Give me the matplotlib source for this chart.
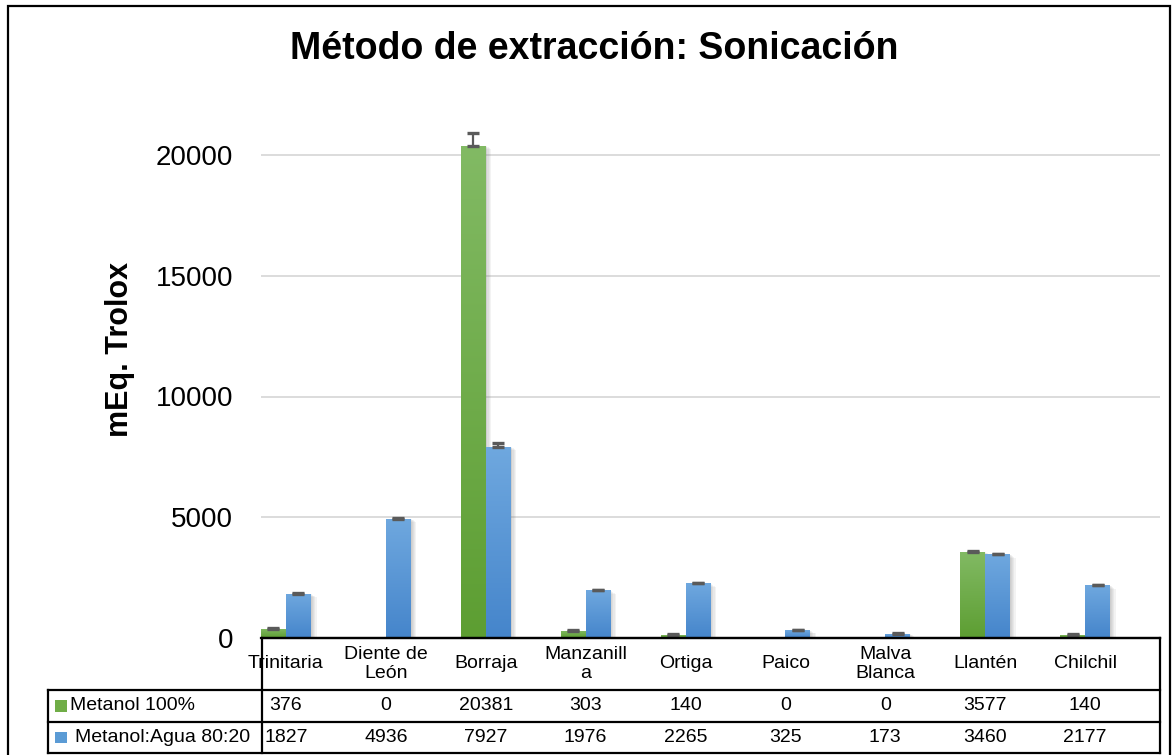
import numpy as np
import matplotlib
matplotlib.use("Agg")
import matplotlib.pyplot as plt
from matplotlib import patheffects as pe
from matplotlib.colors import LinearSegmentedColormap
from matplotlib.lines import Line2D
from matplotlib.patches import Rectangle
from matplotlib.transforms import blended_transform_factory

plt.rcParams['font.family'] = ['Liberation Sans', 'DejaVu Sans']

# ---- data ----
categories = ["Trinitaria", "Diente de\nLeón", "Borraja", "Manzanill\na", "Ortiga",
              "Paico", "Malva\nBlanca", "Llantén", "Chilchil"]
series_names = ["Metanol 100%", "Metanol:Agua 80:20"]
metanol_100 = [376, 0, 20381, 303, 140, 0, 0, 3577, 140]
metanol_agua = [1827, 4936, 7927, 1976, 2265, 325, 173, 3460, 2177]
err_100 = [25, 0, 540, 25, 25, 0, 0, 40, 25]
err_agua = [25, 30, 150, 30, 25, 25, 25, 30, 25]
yticks = [0, 5000, 10000, 15000, 20000]

W, H = 1172, 755
fig = plt.figure(figsize=(W / 100, H / 100), dpi=100)
fig.patch.set_facecolor("white")


def fx(px):
    return px / W


def fy(py):
    return 1 - py / H


ax_left, ax_right, ax_bottom = 261, 1160, 638
y_top = 21500
px_per_unit = 483 / 20000
ax_top = ax_bottom - y_top * px_per_unit
ax = fig.add_axes([fx(ax_left), fy(ax_bottom), (ax_right - ax_left) / W,
                   (ax_bottom - ax_top) / H])

n = len(categories)
x = np.arange(n)
bw = 0.25

green_cmap = LinearSegmentedColormap.from_list("g", ["#5d9e32", "#82ba64"])
blue_cmap = LinearSegmentedColormap.from_list("b", ["#4585cb", "#6fa8df"])
shadow = [pe.SimplePatchShadow(offset=(o, -o * 0.6), shadow_rgbFace="#808080", alpha=0.09)
          for o in (4.0, 3.0, 2.0, 1.2, 0.6)] + [pe.Normal()]

grad = np.linspace(0, 1, 256).reshape(-1, 1)
for vals, offs, cmap in ((metanol_100, -bw / 2, green_cmap),
                         (metanol_agua, bw / 2, blue_cmap)):
    bars = ax.bar(x + offs, vals, width=bw, color=cmap(0.5), linewidth=0, zorder=2)
    for b, v in zip(bars, vals):
        if v <= 0:
            b.set_visible(False)
            continue
        b.set_path_effects(shadow)
        im = ax.imshow(grad, cmap=cmap, origin="lower", aspect="auto",
                       extent=[b.get_x(), b.get_x() + b.get_width(), 0, v],
                       zorder=3, interpolation="bicubic")
        im.set_clip_path(b)

ax.set_xlim(-0.25, n - 0.25)
ax.set_ylim(0, y_top)

# error bars (upper direction)
for vals, errs, offs in ((metanol_100, err_100, -bw / 2), (metanol_agua, err_agua, bw / 2)):
    xs = [xi + offs for xi, v in zip(x, vals) if v > 0]
    ys = [v for v in vals if v > 0]
    es = [e for e, v in zip(errs, vals) if v > 0]
    ax.errorbar(xs, ys, yerr=[np.zeros(len(es)), es], fmt="none", ecolor="#5a5a5a",
                elinewidth=1.6, capsize=4.5, capthick=2.4, zorder=6)

ax.set_yticks(yticks)
ax.set_yticklabels([str(t) for t in yticks], fontsize=20)
ax.tick_params(axis="y", length=0, pad=20)
ax.set_xticks([])
ax.grid(axis="y", color="#d9d9d9", linewidth=1.3, zorder=0)
ax.set_axisbelow(True)
for s in ("left", "right", "top"):
    ax.spines[s].set_visible(False)
ax.spines["bottom"].set_color("black")
ax.spines["bottom"].set_linewidth(1.6)
ax.spines["bottom"].set_zorder(7)
ax.patch.set_visible(False)

# titles
fig.text(fx(594), fy(49), "Método de extracción: Sonicación", ha="center", va="center",
         fontsize=27, fontweight="bold")
fig.text(fx(120), fy(349), "mEq. Trolox", ha="center", va="center", rotation=90,
         fontsize=22, fontweight="bold")

# data table below the axis
tr = blended_transform_factory(ax.transData, fig.transFigure)
row_hdr, row1, row2 = fy(664), fy(706), fy(737.5)
for xi, cat, a, b in zip(x, categories, metanol_100, metanol_agua):
    ax.text(xi, row_hdr, cat, transform=tr, ha="center", va="center", fontsize=14,
            linespacing=1.15, clip_on=False)
    ax.text(xi, row1, str(a), transform=tr, ha="center", va="center", fontsize=14,
            clip_on=False)
    ax.text(xi, row2, str(b), transform=tr, ha="center", va="center", fontsize=14,
            clip_on=False)

lw = 1.6
lines = [
    ((262, 1160), (638, 638)),
    ((48, 1160), (690, 690)),
    ((48, 1160), (721.7, 721.7)),
    ((48, 1160), (753.3, 753.3)),
    ((262, 262), (638, 753.3)),
    ((1160, 1160), (638, 753.3)),
    ((48, 48), (690, 753.3)),
]
for xs_, ys_ in lines:
    fig.add_artist(Line2D([fx(v) for v in xs_], [fy(v) for v in ys_], color="black",
                          linewidth=lw, solid_capstyle="projecting"))

fig.add_artist(Rectangle((fx(55.5), fy(711.5)), 11 / W, 12 / H, transform=fig.transFigure,
                         facecolor="#70ad47", edgecolor="none"))
fig.add_artist(Rectangle((fx(55.5), fy(742.5)), 11 / W, 11 / H, transform=fig.transFigure,
                         facecolor="#5b9bd5", edgecolor="none"))
fig.text(fx(69.5), row1, series_names[0], ha="left", va="center", fontsize=14)
fig.text(fx(75), row2, series_names[1], ha="left", va="center", fontsize=14)

# outer frame
fig.add_artist(Rectangle((fx(8), fy(770)), (1170 - 8) / W, (770 - 5.5) / H,
                         transform=fig.transFigure, fill=False, edgecolor="black",
                         linewidth=1.6))

fig.savefig("out.png", dpi=100, facecolor="white")
